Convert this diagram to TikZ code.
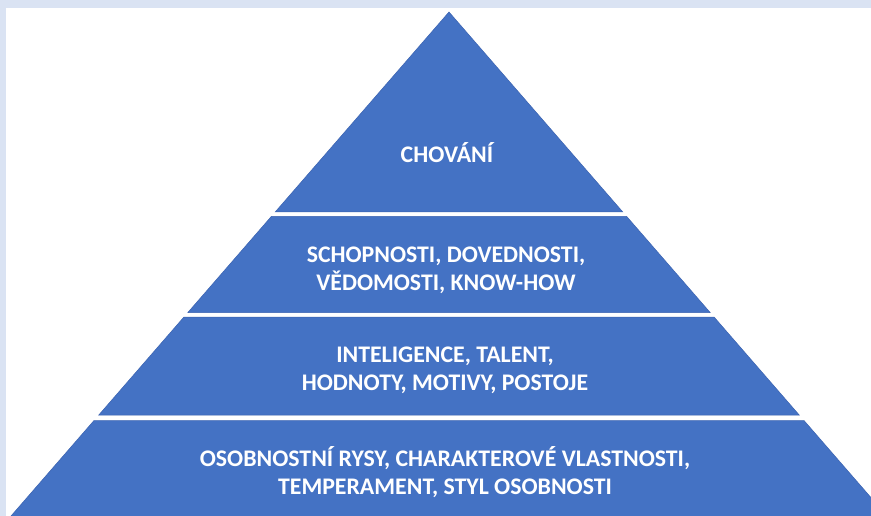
\documentclass[tikz,border=0pt]{standalone}
\usepackage{fontspec}
\setmainfont{Carlito}
\usepackage{tikz}
\usetikzlibrary{calc}
\definecolor{bandblue}{RGB}{68,114,196}
\definecolor{bandedge}{RGB}{58,98,176}
\definecolor{framebg}{RGB}{218,227,243}
\tikzset{bandtext/.style={text=white, font=\fontsize{23.8}{28}\selectfont\bfseries, align=center}}
\newcommand{\band}[2]{
	\filldraw[fill=bandblue, draw=bandedge, line width=0.5pt] ({449-0.869*(#1-12)},#1)--({449+0.869*(#1-12)},#1)--({449+0.869*(#2-12)},#2)--({449-0.869*(#2-12)},#2)--cycle;
}
\begin{document}
\begin{tikzpicture}[x=1pt,y=-1pt]

\useasboundingbox (0,0) rectangle (871,516);
\clip (0,0) rectangle (871,516);
\fill[white] (0,0) rectangle (871,516);
\fill[framebg] (0,0) rectangle (871,8);
\fill[framebg] (0,0) rectangle (6,516);
\band {12}{212}
\band {216.5}{312.5}
\band {317}{415}
\band {420.5}{530}
\node [bandtext] (chovani) at (447,153) {CHOVÁNÍ};
\node [bandtext] (schopnosti) at (446,270.5) {SCHOPNOSTI, DOVEDNOSTI,\\VĚDOMOSTI, KNOW-HOW};
\node [bandtext] (inteligence) at (445,370.5) {INTELIGENCE, TALENT,\\HODNOTY, MOTIVY, POSTOJE};
\node [bandtext] (rysy) at (445,472) {OSOBNOSTNÍ RYSY, CHARAKTEROVÉ VLASTNOSTI,\\TEMPERAMENT, STYL OSOBNOSTI};

\end{tikzpicture}
\end{document}
